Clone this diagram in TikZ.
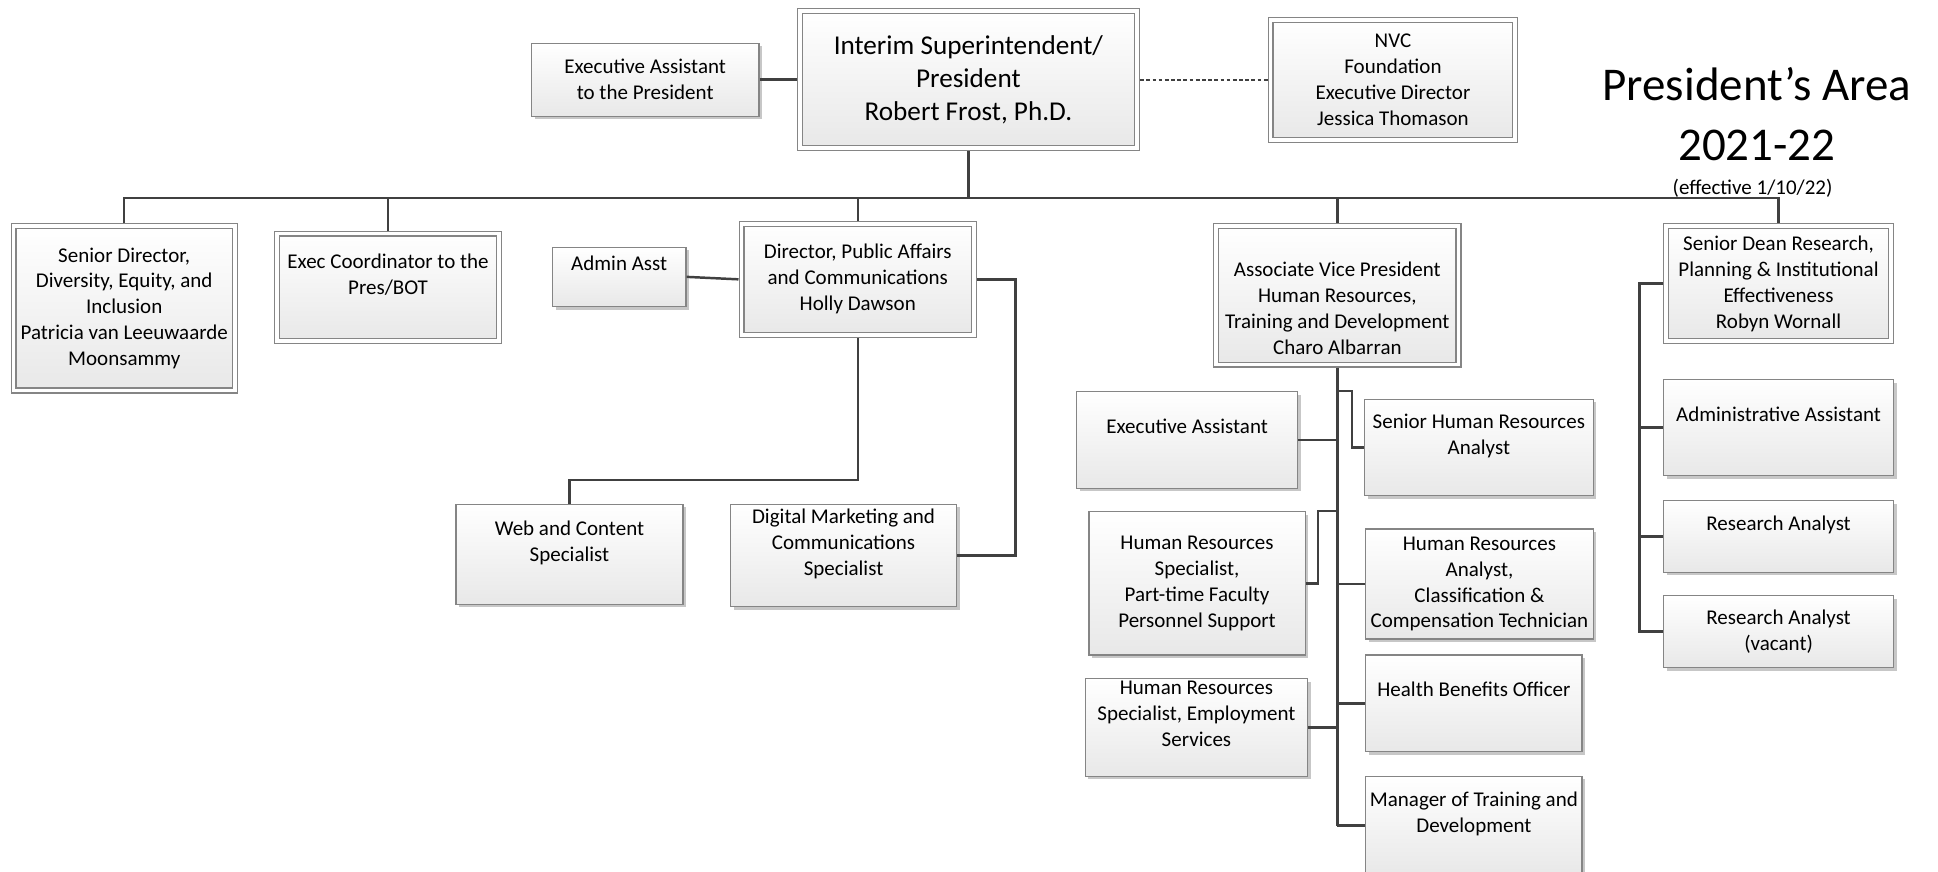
\documentclass[tikz,border=0pt]{standalone}
\usepackage{fontspec}
\setmainfont{Carlito}
\usetikzlibrary{shadows,positioning}
\definecolor{linkgray}{HTML}{404040}
\definecolor{rimgray}{HTML}{858585}
\definecolor{shadegray}{HTML}{E8E8E8}
% invisible struts that push a label up or down inside its box
\newcommand{\padbelow}{\rule[-22pt]{0pt}{22pt}}
\newcommand{\padabove}{\rule{0pt}{33pt}}

\begin{document}
\begin{tikzpicture} [
    x = 1pt, y = -1pt,
    every node/.style = { align = center, font = \fontsize{17}{21}\selectfont, inner xsep = 2pt, inner ysep = 0pt },
    boxsize/.style 2 args = { minimum width = #1, minimum height = #2 },
    box/.style = { draw = rimgray, line width = 1pt, top color = white, bottom color = shadegray,
                   drop shadow={shadow xshift=2.5pt,shadow yshift=-2.5pt,fill=black,opacity=0.22} },
    dbox/.style = { box, double = white, double distance = 3pt, outer sep = 2.5pt },
    link/.style = { draw = linkgray, line width = 2pt, line join = miter },
    dotlink/.style = { draw = linkgray, line width = 1.6pt, dash pattern = on 3pt off 2pt }
    ]

    \useasboundingbox (0,0) rectangle (1568,705);

    % top row
    \node [dbox, boxsize={273}{111}, font=\fontsize{22}{26.5}\selectfont] (pres) at (783.5,64.5) {Interim Superintendent/\\President\\Robert Frost, Ph.D.};
    \node [box, boxsize={184}{59}] (eap) at (522,64.5) {Executive Assistant\\to the President};
    \node [dbox, boxsize={198}{97}] (nvc) at (1127,64.5) {NVC\\Foundation\\Executive Director\\Jessica Thomason};

    \node [anchor=base, font=\fontsize{38}{46}\selectfont] (title) at (1421.5,81) {President’s Area};
    \node [anchor=base, font=\fontsize{38}{46}\selectfont] (year) at (1421.5,129.5) {2021-22};
    \node (eff) at (1418,152) {(effective 1/10/22)};

    % second row
    \node [dbox, boxsize={179}{133}] (dei) at (100.5,249.5) {Senior Director,\\Diversity, Equity, and\\Inclusion\\Patricia van Leeuwaarde\\Moonsammy};
    \node [dbox, boxsize={180}{87}] (ecb) at (314,232.5) {Exec Coordinator to the\\Pres/BOT\padbelow};
    \node [dbox, boxsize={188}{90}] (dir) at (694,226) {Director, Public Affairs\\and Communications\\Holly Dawson};
    \node [dbox, boxsize={196}{112}] (avp) at (1082,239) {\padabove Associate Vice President\\Human Resources,\\Training and Development\\Charo Albarran};
    \node [dbox, boxsize={182}{93}] (sd) at (1439,229.5) {Senior Dean Research,\\Planning \& Institutional\\Effectiveness\\Robyn Wornall};

    % public affairs
    \node [box, boxsize={108}{48}] (aa) at (501,224) {Admin Asst\padbelow};
    \node [box, boxsize={183.5}{81}] (web) at (460.75,448.5) {Web and Content\\Specialist\padbelow};
    \node [box, boxsize={183}{83}] (dmc) at (682.5,449.5) {Digital Marketing and\\Communications\\Specialist\padbelow};

    % human resources
    \node [box, boxsize={179}{78}] (hrea) at (960.5,356) {Executive Assistant\padbelow};
    \node [box, boxsize={185}{78}] (shra) at (1196.5,362) {Senior Human Resources\\Analyst\padbelow};
    \node [box, boxsize={175}{116}] (hrpt) at (968.5,472) {Human Resources\\Specialist,\\Part-time Faculty\\Personnel Support};
    \node [box, boxsize={184}{89}] (hrac) at (1197,472.5) {Human Resources\\Analyst,\\Classification \&\\Compensation Technician};
    \node [box, boxsize={180}{79}] (hrem) at (968,588.5) {Human Resources\\Specialist, Employment\\Services\padbelow};
    \node [box, boxsize={175}{78}] (hbo) at (1192.5,569) {Health Benefits Officer\padbelow};
    \node [box, boxsize={175}{80}] (mtd) at (1192.5,668) {Manager of Training and\\Development\padbelow};

    % research
    \node [box, boxsize={186}{78}] (adm) at (1439,346) {Administrative Assistant\padbelow};
    \node [box, boxsize={186}{58}] (ra1) at (1439,434) {Research Analyst\padbelow};
    \node [box, boxsize={186}{58}] (ra2) at (1439,511) {Research Analyst\\(vacant)};

    % connectors
    \coordinate (bus) at (0,160);
    \draw [link] (eap.east) -- (pres.west);
    \draw [dotlink] (pres.east) -- (nvc.west);
    \draw [link] (pres.south) -- (pres.south |- bus);
    \draw [link] (dei.north) -- (dei.north |- bus) -- (sd.north |- bus) -- (sd.north);
    \foreach \n in {ecb, dir, avp}
        \draw [link] (\n.north) -- (\n.north |- bus);

    \draw [link] (aa.east) -- (dir.west);
    \draw [link] (dir.south) -- ++(0,115) -| (web.north);
    \draw [link] (dir.east) -- ++(31,0) |- (dmc.east);

    \draw [link] (avp.south) -- (avp.south |- mtd.west);
    \draw [link] (avp.south |- hrea.north) -- ++(12,0) |- (shra.west);
    \draw [link] (avp.south |- hrpt.north) -- ++(-15.5,0) |- (hrpt.east);
    \foreach \n in {hrea, hrem}
        \draw [link] (\n.east) -- (\n.east -| avp.south);
    \foreach \n in {hrac, hbo, mtd}
        \draw [link] (\n.west) -- (\n.west -| avp.south);

    \draw [link] (sd.west) -- ++(-19,0) |- (ra2.west);
    \foreach \n in {adm, ra1}
        \draw [link] (\n.west) -- ++(-19,0);

\end{tikzpicture}
\end{document}
